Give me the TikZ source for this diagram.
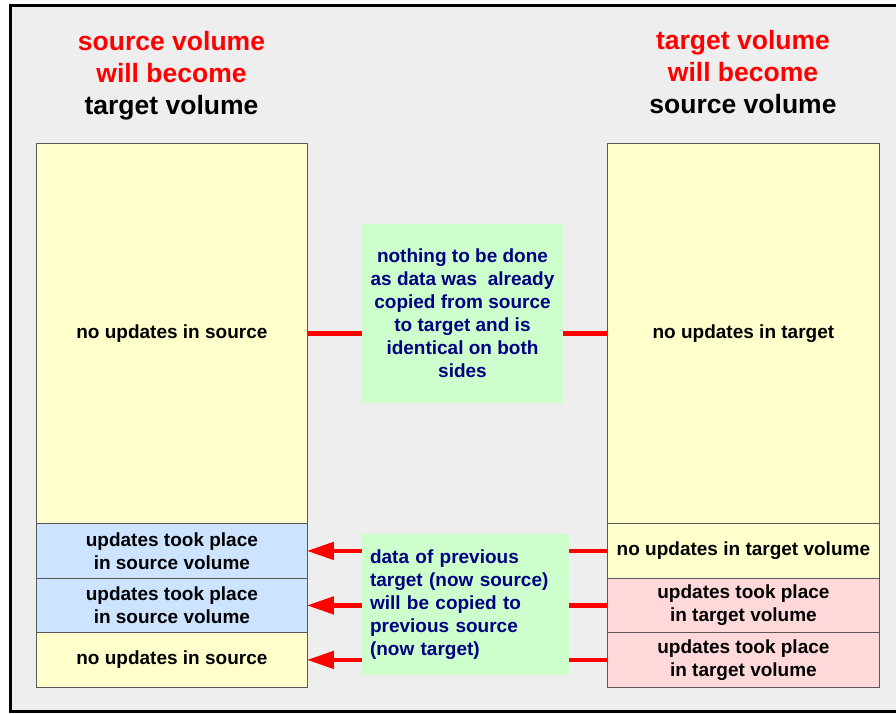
\documentclass[tikz,border=0pt]{standalone}
\usepackage{fontspec}
\setmainfont{Liberation Sans}
\usetikzlibrary{arrows.meta}
\definecolor{bgray}{HTML}{EEEEEE}
\definecolor{byellow}{HTML}{FFFFCC}
\definecolor{bblue}{HTML}{CCE4FF}
\definecolor{bpink}{HTML}{FFD9D9}
\definecolor{bgreen}{HTML}{CCFFCC}
\definecolor{bnavy}{HTML}{000080}
\tikzset{
  vol/.style={draw=black!65, line width=0.8pt, minimum width=#1, inner sep=2pt, align=center,
    font=\bfseries\fontsize{19}{23}\selectfont, text=black},
  note/.style={fill=bgreen, draw=none, inner sep=8pt, text=bnavy,
    font=\bfseries\fontsize{19}{23}\selectfont},
  title/.style={align=center, font=\bfseries\fontsize{26.5}{32}\selectfont, inner sep=0pt},
  link/.style={draw=red, line width=4.5pt},
  arrowlink/.style={link, -{Triangle[length=27pt,width=17pt]}, shorten >=-1pt}
}
\begin{document}
\begin{tikzpicture}[x=1pt,y=-1pt]
\useasboundingbox (0,0) rectangle (896,713);
\begin{scope}
\clip (0,0) rectangle (896,713);
\fill[white] (0,0) rectangle (896,713);
\draw[fill=bgray, line width=3pt] (10,5.5) rectangle (905,711.5);
\end{scope}

% titles
\node[title] (tl) at (171.5,76) {\textcolor{red}{source volume}\\\textcolor{red}{will become}\\target volume};
\node[title] (tr) at (743,72) {\textcolor{red}{target volume}\\\textcolor{red}{will become}\\source volume};

% left column
\node[vol=271pt, minimum height=380pt, fill=byellow, anchor=north west] (L1) at (36,143) {no updates in source};
\node[vol=271pt, minimum height=55pt, fill=bblue, anchor=north west] (L2) at (36,523) {updates took place\\in source volume};
\node[vol=271pt, minimum height=54pt, fill=bblue, anchor=north west] (L3) at (36,578) {updates took place\\in source volume};
\node[vol=271pt, minimum height=55pt, fill=byellow, anchor=north west] (L4) at (36,632) {no updates in source};

% right column
\node[vol=272pt, minimum height=380pt, fill=byellow, anchor=north west] (R1) at (607,143) {no updates in target};
\node[vol=272pt, minimum height=55pt, fill=byellow, anchor=north west] (R2) at (607,523) {no updates in target volume};
\node[vol=272pt, minimum height=54pt, fill=bpink, anchor=north west] (R3) at (607,578) {updates took place\\in target volume};
\node[vol=272pt, minimum height=55pt, fill=bpink, anchor=north west] (R4) at (607,632) {updates took place\\in target volume};

% notes
\node[note, minimum width=201pt, minimum height=179pt, align=center] (G1) at (462.5,313.5)
  {nothing to be done\\as data was\ \ already\\copied from source\\to target and is\\identical on both\\sides};
\node[note, minimum width=207pt, minimum height=141pt, align=left, text width=191pt] (G2) at (465.5,604.5)
  {data of previous\\target (now source)\\will be copied to\\previous source\\(now target)};

% connectors
\draw[link] (L1.east) -- (L1.east -| G1.west);
\draw[link] (G1.east |- R1.west) -- (R1.west);
\draw[arrowlink] (G2.west |- L2.east) -- (L2.east);
\draw[arrowlink] (G2.west |- L3.east) -- (L3.east);
\draw[arrowlink] (G2.west |- L4.east) -- (L4.east);
\draw[link] (R2.west) -- (G2.east |- R2.west);
\draw[link] (R3.west) -- (G2.east |- R3.west);
\draw[link] (R4.west) -- (G2.east |- R4.west);
\end{tikzpicture}
\end{document}
